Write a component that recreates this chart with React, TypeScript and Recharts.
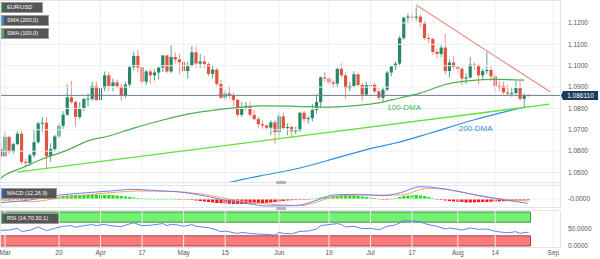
import React from 'react';
import { ComposedChart, Bar, Line, XAxis, YAxis, ReferenceLine, ReferenceArea, ReferenceDot } from 'recharts';

// ---------- DATA ----------
const dates = ['Feb 28','Mar 1','Mar 2','Mar 3','Mar 6','Mar 7','Mar 8','Mar 9','Mar 10','Mar 13','Mar 14','Mar 15','Mar 16','Mar 17','Mar 20','Mar 21','Mar 22','Mar 23','Mar 24','Mar 27','Mar 28','Mar 29','Mar 30','Mar 31','Apr 3','Apr 4','Apr 5','Apr 6','Apr 7','Apr 10','Apr 11','Apr 12','Apr 13','Apr 14','Apr 17','Apr 18','Apr 19','Apr 20','Apr 21','Apr 24','Apr 25','Apr 26','Apr 27','Apr 28','May 1','May 2','May 3','May 4','May 5','May 8','May 9','May 10','May 11','May 12','May 15','May 16','May 17','May 18','May 19','May 22','May 23','May 24','May 25','May 26','May 29','May 30','May 31','Jun 1','Jun 2','Jun 5','Jun 6','Jun 7','Jun 8','Jun 9','Jun 12','Jun 13','Jun 14','Jun 15','Jun 16','Jun 19','Jun 20','Jun 21','Jun 22','Jun 23','Jun 26','Jun 27','Jun 28','Jun 29','Jun 30','Jul 3','Jul 4','Jul 5','Jul 6','Jul 7','Jul 10','Jul 11','Jul 12','Jul 13','Jul 14','Jul 17','Jul 18','Jul 19','Jul 20','Jul 21','Jul 24','Jul 25','Jul 26','Jul 27','Jul 28','Jul 31','Aug 1','Aug 2','Aug 3','Aug 4','Aug 7','Aug 8','Aug 9','Aug 10','Aug 11','Aug 14','Aug 15','Aug 16','Aug 17','Aug 18','Aug 21','Aug 22','Aug 23','Aug 24'];

const opens = [1.0610,1.0576,1.0667,1.0597,1.0633,1.0682,1.0550,1.0545,1.0581,1.0642,1.0730,1.0733,1.0577,1.0610,1.0669,1.0719,1.0771,1.0852,1.0830,1.0760,1.0800,1.0844,1.0844,1.0905,1.0839,1.0895,1.0955,1.0905,1.0922,1.0902,1.0862,1.0912,1.0993,1.1046,1.0992,1.0925,1.0973,1.0955,1.0968,1.0991,1.1048,1.0973,1.1041,1.1029,1.1017,1.0975,1.1000,1.1063,1.1010,1.1020,1.1008,1.0962,1.0982,1.0914,1.0850,1.0870,1.0863,1.0840,1.0770,1.0806,1.0812,1.0770,1.0750,1.0726,1.0720,1.0710,1.0735,1.0689,1.0763,1.0708,1.0713,1.0693,1.0697,1.0780,1.0750,1.0755,1.0793,1.0830,1.0945,1.0940,1.0922,1.0916,1.0985,1.0955,1.0895,1.0905,1.0960,1.0910,1.0865,1.0909,1.0910,1.0880,1.0850,1.0888,1.0968,1.0997,1.1010,1.1130,1.1225,1.1230,1.1228,1.1230,1.1200,1.1130,1.1125,1.1065,1.1055,1.1085,1.0975,1.1015,1.0995,1.0985,1.0940,1.0945,1.1005,1.1003,1.0955,1.0975,1.0980,1.0950,1.0905,1.0905,1.0875,1.0870,1.0872,1.0895,1.0845,1.0862];
const highs = [1.0645,1.0691,1.0670,1.0640,1.0694,1.0695,1.0565,1.0590,1.0700,1.0737,1.0760,1.0760,1.0637,1.0676,1.0730,1.0788,1.0912,1.0930,1.0838,1.0830,1.0850,1.0870,1.0925,1.0925,1.0900,1.0973,1.0970,1.0940,1.0935,1.0915,1.0925,1.1000,1.1066,1.1075,1.0996,1.0980,1.0985,1.0985,1.0995,1.1050,1.1052,1.1095,1.1062,1.1055,1.1030,1.1020,1.1092,1.1090,1.1055,1.1045,1.1015,1.1000,1.0990,1.0935,1.0885,1.0905,1.0875,1.0845,1.0830,1.0830,1.0830,1.0795,1.0760,1.0745,1.0725,1.0745,1.0745,1.0780,1.0780,1.0730,1.0720,1.0715,1.0785,1.0790,1.0765,1.0820,1.0865,1.0950,1.0970,1.0945,1.0935,1.0990,1.1012,1.0970,1.0925,1.0975,1.0965,1.0920,1.0925,1.0935,1.0920,1.0895,1.0900,1.0975,1.1000,1.1020,1.1140,1.1230,1.1245,1.1250,1.1276,1.1240,1.1210,1.1150,1.1130,1.1080,1.1100,1.1150,1.1030,1.1045,1.1005,1.0995,1.0965,1.1040,1.1015,1.1010,1.0985,1.1065,1.1000,1.0960,1.0930,1.0925,1.0910,1.0895,1.0930,1.0930,1.0870,1.0866];
const lows = [1.0570,1.0573,1.0586,1.0588,1.0628,1.0537,1.0524,1.0530,1.0570,1.0635,1.0690,1.0516,1.0551,1.0600,1.0660,1.0705,1.0765,1.0820,1.0713,1.0750,1.0788,1.0810,1.0835,1.0835,1.0788,1.0880,1.0880,1.0880,1.0898,1.0835,1.0850,1.0900,1.0980,1.0970,1.0910,1.0910,1.0915,1.0930,1.0935,1.0970,1.0965,1.0965,1.1010,1.0960,1.0965,1.0940,1.0995,1.0990,1.0990,1.0990,1.0950,1.0940,1.0905,1.0845,1.0835,1.0845,1.0810,1.0760,1.0760,1.0790,1.0760,1.0745,1.0710,1.0705,1.0700,1.0675,1.0635,1.0665,1.0700,1.0675,1.0665,1.0680,1.0690,1.0735,1.0730,1.0740,1.0775,1.0800,1.0925,1.0910,1.0895,1.0900,1.0945,1.0845,1.0880,1.0895,1.0900,1.0835,1.0860,1.0890,1.0870,1.0840,1.0833,1.0880,1.0950,1.0980,1.1000,1.1120,1.1200,1.1205,1.1210,1.1180,1.1120,1.1105,1.1050,1.1035,1.1040,1.0960,1.0945,1.0985,1.0960,1.0910,1.0915,1.0940,1.0980,1.0912,1.0935,1.0960,1.0930,1.0875,1.0880,1.0865,1.0860,1.0855,1.0865,1.0835,1.0806,1.0857];
const closes = [1.0576,1.0667,1.0597,1.0633,1.0682,1.0550,1.0545,1.0581,1.0642,1.0730,1.0733,1.0577,1.0610,1.0669,1.0719,1.0771,1.0852,1.0830,1.0760,1.0800,1.0844,1.0846,1.0905,1.0839,1.0895,1.0955,1.0905,1.0922,1.0902,1.0862,1.0912,1.0993,1.1046,1.0992,1.0925,1.0973,1.0955,1.0968,1.0991,1.1048,1.0973,1.1041,1.1029,1.1017,1.0975,1.1000,1.1063,1.1010,1.1020,1.1008,1.0962,1.0982,1.0914,1.0850,1.0870,1.0863,1.0840,1.0770,1.0806,1.0812,1.0770,1.0750,1.0726,1.0720,1.0710,1.0735,1.0689,1.0763,1.0708,1.0713,1.0693,1.0697,1.0780,1.0750,1.0755,1.0793,1.0830,1.0945,1.0940,1.0922,1.0916,1.0985,1.0955,1.0895,1.0905,1.0960,1.0910,1.0865,1.0909,1.0910,1.0880,1.0850,1.0888,1.0968,1.0997,1.1010,1.1130,1.1225,1.1230,1.1228,1.1230,1.1200,1.1130,1.1125,1.1065,1.1055,1.1085,1.0975,1.1015,1.0995,1.0985,1.0940,1.0945,1.1005,1.1003,1.0955,1.0975,1.0980,1.0950,1.0905,1.0900,1.0875,1.0870,1.0872,1.0895,1.0845,1.0861,1.0861];

// MACD histogram (one per candle)
const macdHist = [-0.0005,-0.0005,-0.0005,-0.0004,-0.0004,-0.0003,-0.0002,
  0.00025,0.0005,0.0006,0.00075,0.00075,0.0009,0.001,
  0.00125,0.0015,0.00175,0.0019,0.002,0.002,0.0021,0.0021,0.00225,0.00225,0.0021,0.002,0.002,0.0019,0.00175,0.0015,0.00125,
  0.001,0.00075,0.0005,0.0004,0.00025,0.00015,0.00015,0.0001,0.00005,0.0001,0.00015,0.0001,-0.0001,
  -0.00025,-0.0004,-0.0005,-0.00075,-0.001,-0.00125,-0.0015,-0.00175,-0.002,-0.0021,-0.00225,-0.0024,-0.0025,-0.0025,-0.0025,-0.0024,-0.0023,-0.00225,-0.0021,-0.002,-0.0019,-0.00175,-0.0015,-0.00125,-0.001,-0.00075,-0.0006,-0.0005,-0.0004,
  -0.00025,-0.0001,0.00025,0.0005,0.00075,0.001,0.00125,0.0015,0.00175,0.0019,0.002,0.0019,0.00175,0.0015,0.00125,0.001,0.00075,0.0005,
  0.00015,-0.00015,-0.00025,0.00015,0.0005,0.001,0.0015,
  0.00175,0.002,0.002,0.00175,0.0015,0.001,0.0005,
  -0.00025,-0.0005,-0.00075,-0.001,-0.00125,-0.0015,-0.0015,-0.00175,-0.00175,-0.00175,-0.0016,-0.0015,-0.0015,-0.0014,-0.00125,-0.00125,-0.0011,-0.001,-0.0009,-0.00075,-0.00075,-0.0006,-0.0006];

const sma100 = [
  { i: -1, v: 1.0474 }, { i: 0, v: 1.0488 }, { i: 4, v: 1.0521 }, { i: 9, v: 1.0563 }, { i: 15, v: 1.0605 },
  { i: 20, v: 1.0648 }, { i: 25, v: 1.0671 }, { i: 31, v: 1.0708 }, { i: 38, v: 1.0746 }, { i: 46, v: 1.0780 },
  { i: 54, v: 1.0800 }, { i: 62, v: 1.0812 }, { i: 70, v: 1.0810 }, { i: 78, v: 1.0806 }, { i: 85, v: 1.0814 },
  { i: 90, v: 1.0826 }, { i: 95, v: 1.0849 }, { i: 100, v: 1.0872 }, { i: 106, v: 1.0912 }, { i: 112, v: 1.0930 },
  { i: 118, v: 1.0936 }, { i: 125, v: 1.0933 },
];
const sma200 = [
  { i: 51, v: 1.0440 }, { i: 55, v: 1.0458 }, { i: 61.4, v: 1.0484 }, { i: 71, v: 1.0521 }, { i: 80.7, v: 1.0573 },
  { i: 88.7, v: 1.0615 }, { i: 94, v: 1.0638 }, { i: 102.4, v: 1.0685 }, { i: 112.8, v: 1.0746 }, { i: 119.3, v: 1.0779 },
  { i: 125.3, v: 1.0807 },
];
const supportLine = [{ i: 2.9, v: 1.0502 }, { i: 131.1, v: 1.0820 }];
const resistanceLine = [{ i: 99, v: 1.1284 }, { i: 131.3, v: 1.0877 }];
const currentPrice = 1.08611;

const macdLine = [
  { i: -1.2, v: -0.00185 }, { i: 6, v: -0.0005 }, { i: 13.3, v: 0.002 }, { i: 19.8, v: 0.00315 }, { i: 25.3, v: 0.004 },
  { i: 30.8, v: 0.00485 }, { i: 36.6, v: 0.00415 }, { i: 41.4, v: 0.00365 }, { i: 47, v: 0.002 }, { i: 53.5, v: -0.00085 },
  { i: 59, v: -0.0025 }, { i: 63.1, v: -0.0035 }, { i: 68.7, v: -0.00335 }, { i: 71.1, v: -0.003 }, { i: 75.2, v: -0.0005 },
  { i: 79, v: 0.002 }, { i: 84.8, v: 0.00235 }, { i: 91, v: 0.00165 }, { i: 95.2, v: 0.00315 }, { i: 100, v: 0.00615 },
  { i: 104.8, v: 0.00535 }, { i: 111.3, v: 0.00285 }, { i: 119.3, v: -0.00015 }, { i: 125.8, v: -0.00215 },
];
const signalLine = [
  { i: -1.2, v: -0.0005 }, { i: 6, v: -0.00135 }, { i: 13.3, v: 0.0005 }, { i: 19.8, v: 0.002 }, { i: 25.3, v: 0.00315 },
  { i: 32.5, v: 0.004 }, { i: 41.4, v: 0.00365 }, { i: 48.7, v: 0.002 }, { i: 55, v: -0.0005 }, { i: 63.1, v: -0.0025 },
  { i: 71.1, v: -0.0033 }, { i: 79, v: 0.00085 }, { i: 87.2, v: 0.002 }, { i: 95.2, v: 0.002 }, { i: 101.7, v: 0.00535 },
  { i: 107.2, v: 0.0045 }, { i: 116, v: 0.00085 }, { i: 125.8, v: -0.001 },
];
const rsiIdx = [-1,1,3,4,6,8,10,12,14,16,17,19,21,22,24,25,28,30,31,33,35,38,39,40,42,43,45,46,49,51,52,53,56,57,59,61,63,65,66,67,69,71,73,75,76,78,80,81,82,84,86,88,90,92,94,95,96,98,100,101,103,104,106,107,110,112,114,116,117,118,120,121,123,124,125,126];
const rsiVals = [46,47,52,43,46,56,45,52,58,60,55,60,63,60,64,60,57,65,68,60,61,66,60,64,61,58,63,58,54,47,42,44,37,40,37,35,34,32,40,37,36,43,44,50,60,63,66,63,56,58,51,52,48,58,62,68,74,74,71,66,60,58,50,53,47,53,49,50,47,43,40,39,42,37,40,40];

const xTicks = [0, 13, 23, 33, 43, 53, 66, 78, 88, 98, 109, 118, 132];
const xTickLabels = ['Mar', '20', 'Apr', '17', 'May', '15', 'Jun', '19', 'Jul', '17', 'Aug', '14', 'Sep'];
const priceTicks = [1.05, 1.06, 1.07, 1.08, 1.09, 1.10, 1.11, 1.12];
const macdTicks = [0];
const macdTickLabels = ['-0.0000'];
const rsiTicks = [0, 50];
const rsiTickLabels = ['0.0000', '50.0000'];

// ---------- BUILD ----------
const candles = dates.map((d, k) => ({
  i: k - 1, date: d, o: opens[k], h: highs[k], l: lows[k], c: closes[k],
  range: [lows[k], highs[k]], hist: macdHist[k],
}));
const rsiData = rsiIdx.map((i, k) => ({ i, v: rsiVals[k] }));

const X_DOMAIN: [number, number] = [-1.2, 133.6];
const GREEN = '#26866a';
const RED = '#e0533f';
const GRID = '#eceff3';
const FONT = '"Liberation Sans", Arial, sans-serif';

const Candle = (props: any) => {
  let { x, y, width, height, payload } = props;
  if (height < 0) { y += height; height = -height; }
  const { o, h, l, c } = payload;
  const span = h - l;
  const toY = (v: number) => (span === 0 ? y : y + ((h - v) / span) * height);
  const up = c >= o;
  const top = toY(Math.max(o, c));
  const bot = toY(Math.min(o, c));
  const cx = x + width / 2;
  return (
    <g>
      <line x1={cx} x2={cx} y1={y} y2={y + height} stroke={up ? '#55a58c' : '#ef9387'} strokeWidth={1} />
      <rect x={cx - 1.6} y={top} width={3.2} height={Math.max(1, bot - top)} fill={up ? GREEN : RED} />
    </g>
  );
};

const HistBar = (props: any) => {
  let { x, y, width, height, payload } = props;
  if (height < 0) { y += height; height = -height; }
  const cx = x + width / 2;
  return <rect x={cx - 1.6} y={y} width={3.2} height={Math.max(0.8, height)} fill={payload.hist >= 0 ? '#19e019' : '#f01c1c'} />;
};

const PriceTag = (p: any) => {
  const vb = p.viewBox || {};
  const x = (vb.x || 0) + (vb.width || 0) + 3;
  const y = vb.y || 0;
  return (
    <g>
      <path d={`M${x - 2},${y} L${x},${y - 4.5} L${x + 35},${y - 4.5} L${x + 35},${y + 4.5} L${x},${y + 4.5} Z`} fill="#1d3a5c" />
      <text x={x + 17.5} y={y + 2.3} textAnchor="middle" fontSize={6.5} fill="#ffffff" fontFamily={FONT}>{currentPrice.toFixed(6)}</text>
    </g>
  );
};

const vGrid = xTicks.map((t) => <ReferenceLine key={'vg' + t} x={t} stroke={GRID} strokeWidth={1} ifOverflow="hidden" />);

const boxStyle = (accent: string, top: number, width: number): React.CSSProperties => ({
  position: 'absolute', left: 2, top, width, height: 9, background: '#565656', borderLeft: `2px solid ${accent}`,
  outline: '0.5px solid #9a9a9a', color: '#fff', fontSize: 5.6, lineHeight: '9px', paddingLeft: 3, boxSizing: 'border-box',
  fontFamily: FONT, whiteSpace: 'nowrap',
});

export default function App() {
  return (
    <div style={{ position: 'absolute', left: 0, top: 0, width: 600, height: 259, background: '#fff', fontFamily: FONT, overflow: 'hidden' }}>
      {/* main price panel */}
      <div style={{ position: 'absolute', left: 0, top: 0 }}>
        <ComposedChart width={600} height={182} data={candles} margin={{ top: 0, right: 0, bottom: 0, left: 0 }}>
          <XAxis dataKey="i" type="number" domain={X_DOMAIN} allowDataOverflow hide ticks={xTicks} />
          <YAxis yAxisId={0} orientation="right" width={40} type="number" domain={[1.04556, 1.13077]} allowDataOverflow
            ticks={priceTicks} tickFormatter={(v: number) => v.toFixed(4)} axisLine={false} tickLine={false}
            tick={{ fontSize: 6.5, fill: '#555' }} />
          {vGrid}
          {priceTicks.map((t) => <ReferenceLine key={'hg' + t} y={t} stroke={GRID} strokeWidth={1} />)}
          <ReferenceLine y={currentPrice} stroke="#6d7c95" strokeWidth={1} label={PriceTag} />
          <Bar dataKey="range" barSize={3} shape={Candle} isAnimationActive={false} />
          <Line data={sma100} dataKey="v" type="monotone" stroke="#4caf50" strokeWidth={1.2} dot={false} activeDot={false} isAnimationActive={false} />
          <Line data={sma200} dataKey="v" type="monotone" stroke="#2e8fe0" strokeWidth={1.2} dot={false} activeDot={false} isAnimationActive={false} />
          <ReferenceLine segment={[{ x: supportLine[0].i, y: supportLine[0].v }, { x: supportLine[1].i, y: supportLine[1].v }]}
            stroke="#62e03c" strokeWidth={1.3} ifOverflow="visible" />
          <ReferenceLine segment={[{ x: resistanceLine[0].i, y: resistanceLine[0].v }, { x: resistanceLine[1].i, y: resistanceLine[1].v }]}
            stroke="#f08a80" strokeWidth={1.1} ifOverflow="visible" />
          <ReferenceDot x={96.1} y={1.0805} r={0} fill="none" stroke="none"
            label={{ value: '100-DMA', position: 'center', fill: '#4caf50', fontSize: 8 }} />
          <ReferenceDot x={113.3} y={1.0708} r={0} fill="none" stroke="none"
            label={{ value: '200-DMA', position: 'center', fill: '#2e8fe0', fontSize: 8 }} />
        </ComposedChart>
      </div>

      {/* MACD panel */}
      <div style={{ position: 'absolute', left: 0, top: 186 }}>
        <ComposedChart width={600} height={21} data={candles} margin={{ top: 0, right: 0, bottom: 0, left: 0 }}>
          <XAxis dataKey="i" type="number" domain={X_DOMAIN} allowDataOverflow hide ticks={xTicks} />
          <YAxis orientation="right" width={40} type="number" domain={[-0.004, 0.0065]} allowDataOverflow
            ticks={macdTicks} tickFormatter={(v: number) => macdTickLabels[macdTicks.indexOf(v)] ?? ''}
            axisLine={false} tickLine={false} tick={{ fontSize: 6.5, fill: '#555' }} />
          {vGrid}
          <ReferenceLine y={0} stroke={GRID} />
          <Bar dataKey="hist" barSize={3} shape={HistBar} isAnimationActive={false} />
          <Line data={signalLine} dataKey="v" type="monotone" stroke="#f7a35c" strokeWidth={1} dot={false} activeDot={false} isAnimationActive={false} />
          <Line data={macdLine} dataKey="v" type="monotone" stroke="#6f7ff2" strokeWidth={1} dot={false} activeDot={false} isAnimationActive={false} />
        </ComposedChart>
      </div>

      {/* RSI panel */}
      <div style={{ position: 'absolute', left: 0, top: 211 }}>
        <ComposedChart width={600} height={48} data={rsiData} margin={{ top: 0, right: 0, bottom: 0, left: 0 }}>
          <XAxis dataKey="i" type="number" domain={X_DOMAIN} allowDataOverflow ticks={xTicks} height={12}
            tickFormatter={(v: number) => xTickLabels[xTicks.indexOf(v)] ?? ''} axisLine={false} tickLine={false}
            tickSize={0} tickMargin={3} tick={{ fontSize: 6.5, fill: '#555' }} interval={0} />
          <YAxis orientation="right" width={40} type="number" domain={[-3, 103]} allowDataOverflow
            ticks={rsiTicks} tickFormatter={(v: number) => rsiTickLabels[rsiTicks.indexOf(v)] ?? ''}
            axisLine={false} tickLine={false} tick={{ fontSize: 6.5, fill: '#555' }} />
          {vGrid}
          <ReferenceArea x1={-1.2} x2={126.5} y1={70} y2={100} fill="#72f072" fillOpacity={1} stroke="#2f7a2f" strokeWidth={0.8} />
          <ReferenceArea x1={-1.2} x2={126.5} y1={0} y2={30} fill="#fb7b7b" fillOpacity={1} stroke="#8a2a2a" strokeWidth={0.8} />
          <Line dataKey="v" type="linear" stroke="#6b7cf5" strokeWidth={1} dot={false} activeDot={false} isAnimationActive={false} />
        </ComposedChart>
      </div>

      {/* panel frames */}
      <div style={{ position: 'absolute', left: 0, top: 0, width: 561, height: 183, border: '1px solid #dfe3ea', boxSizing: 'border-box', pointerEvents: 'none' }} />
      <div style={{ position: 'absolute', left: 0, top: 185, width: 561, height: 23, border: '1px solid #dfe3ea', boxSizing: 'border-box', pointerEvents: 'none' }} />
      <div style={{ position: 'absolute', left: 0, top: 210, width: 561, height: 38, border: '1px solid #dfe3ea', boxSizing: 'border-box', pointerEvents: 'none' }} />
      <div style={{ position: 'absolute', left: 276, top: 181, width: 10, height: 3, background: '#b5b5b5', borderRadius: 1 }} />
      <div style={{ position: 'absolute', left: 276, top: 207, width: 10, height: 3, background: '#b5b5b5', borderRadius: 1 }} />

      {/* legend boxes */}
      <div style={boxStyle('#2e7d32', 3, 40)}>EUR/USD</div>
      <div style={boxStyle('#2e8fe0', 16, 46)}>SMA (200,0)</div>
      <div style={boxStyle('#4caf50', 29, 46)}>SMA (100,0)</div>
      <div style={boxStyle('#3a5bd0', 189, 54)}>MACD (12,26,9)</div>
      <div style={boxStyle('#2e7d32', 214, 56)}>RSI (14,70,30,1)</div>
    </div>
  );
}
